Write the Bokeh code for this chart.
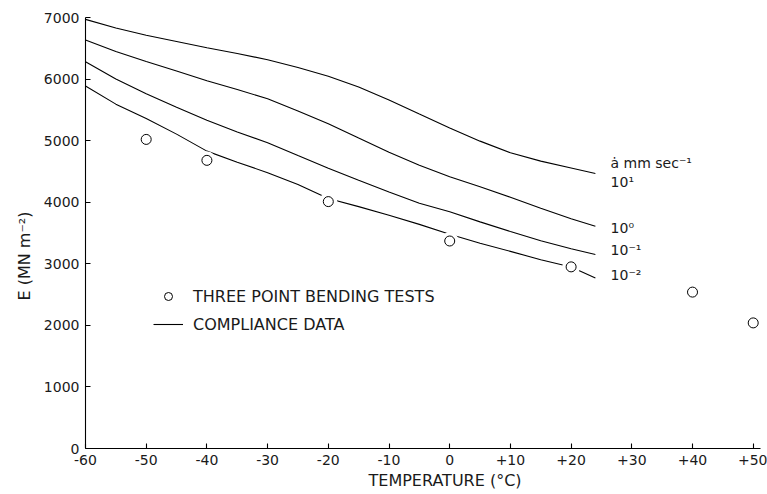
from bokeh.plotting import figure
from bokeh.models import FixedTicker, Label, Legend, LegendItem, Range1d, Title
from bokeh.embed import file_html
from bokeh.resources import INLINE

# ---- data ----
temp_curve = [-60, -55, -50, -45, -40, -35, -30, -25, -20, -15, -10, -5, 0, 5, 10, 15, 20, 24]
e_rate_1e1 = [6970, 6829, 6711, 6610, 6509, 6415, 6315, 6187, 6047, 5870, 5659, 5431, 5207, 4992, 4802, 4667, 4555, 4467]
e_rate_1e0 = [6634, 6447, 6286, 6130, 5972, 5830, 5680, 5480, 5273, 5041, 4810, 4602, 4415, 4250, 4081, 3902, 3733, 3610]
e_rate_1em1 = [6281, 6002, 5760, 5543, 5333, 5140, 4967, 4758, 4553, 4356, 4167, 3984, 3846, 3681, 3524, 3374, 3244, 3150]
e_rate_1em2 = [5886, 5593, 5361, 5106, 4830, 4650, 4480, 4286, 4060, 3928, 3789, 3640, 3480, 3333, 3202, 3065, 2948, 2769]

temp_points = [-50, -40, -20, 0, 20, 40, 50]
e_points = [5020, 4680, 4010, 3370, 2950, 2540, 2040]

x_ticks = [-60, -50, -40, -30, -20, -10, 0, 10, 20, 30, 40, 50]
x_tick_labels = ["-60", "-50", "-40", "-30", "-20", "-10", "0", "+10", "+20", "+30", "+40", "+50"]
y_ticks = [0, 1000, 2000, 3000, 4000, 5000, 6000, 7000]
y_tick_labels = ["0", "1000", "2000", "3000", "4000", "5000", "6000", "7000"]

rate_labels = ["10¹", "10⁰", "10⁻¹", "10⁻²"]
rate_label_e = [4330, 3577, 3220, 2813]

FONT = "DejaVu Sans"
INK = "#1a1a1a"

p = figure(width=767, height=494, output_backend="svg", toolbar_location=None,
           x_range=Range1d(-60, 51.2), y_range=Range1d(0, 7000),
           min_border_left=85, min_border_right=7, min_border_top=17, min_border_bottom=46)
p.outline_line_color = None
p.xgrid.visible = False
p.ygrid.visible = False
p.background_fill_color = "white"

for ax, ticks, labels in ((p.xaxis[0], x_ticks, x_tick_labels), (p.yaxis[0], y_ticks, y_tick_labels)):
    ax.ticker = FixedTicker(ticks=ticks)
    ax.major_label_overrides = {t: l for t, l in zip(ticks, labels)}
    ax.major_tick_in = 5
    ax.major_tick_out = 0
    ax.minor_tick_line_color = None
    ax.axis_line_color = "black"
    ax.axis_line_width = 1.1
    ax.major_tick_line_color = "black"
    ax.major_tick_line_width = 1.1
    ax.major_label_text_font = FONT
    ax.major_label_text_font_size = "14px"
    ax.major_label_text_color = INK
p.xaxis.major_label_standoff = 6
p.yaxis.major_label_standoff = 6

p.add_layout(Title(text="TEMPERATURE (°C)", align="left", offset=283, standoff=2,
                   text_font=FONT, text_font_size="16px", text_font_style="normal",
                   text_color=INK), "below")
p.add_layout(Title(text="E (MN m⁻²)", align="left", offset=148, standoff=13,
                   text_font=FONT, text_font_size="16px", text_font_style="normal",
                   text_color=INK), "left")

line_r = None
for e in (e_rate_1e1, e_rate_1e0, e_rate_1em1, e_rate_1em2):
    line_r = p.line(temp_curve, e, line_color="black", line_width=1.1)

# white halo that breaks the curves around the test points
p.scatter(temp_points, e_points, size=18, fill_color="white", line_color=None)
circ = p.scatter(temp_points, e_points, size=10, fill_color="white", line_color="black", line_width=1)

legend = Legend(items=[LegendItem(label="THREE POINT BENDING TESTS", renderers=[circ]),
                       LegendItem(label="COMPLIANCE DATA", renderers=[line_r])],
                location=(68, 114), border_line_color=None, background_fill_alpha=0,
                padding=0, margin=0, spacing=8, glyph_width=30, glyph_height=20,
                label_height=20, label_standoff=10, label_text_font=FONT,
                label_text_font_size="16px", label_text_color=INK)
p.add_layout(legend, "center")

def add_text(x, y, text, **kw):
    opts = dict(text_font=FONT, text_font_size="14px", text_color=INK,
                text_align="left", text_baseline="middle")
    opts.update(kw)
    p.add_layout(Label(x=x, y=y, text=text, **opts))

add_text(26.5, 4634, "ȧ mm sec⁻¹")
for txt, ey in zip(rate_labels, rate_label_e):
    add_text(26.5, ey, txt)

open("out.html", "w").write(file_html(p, INLINE))
